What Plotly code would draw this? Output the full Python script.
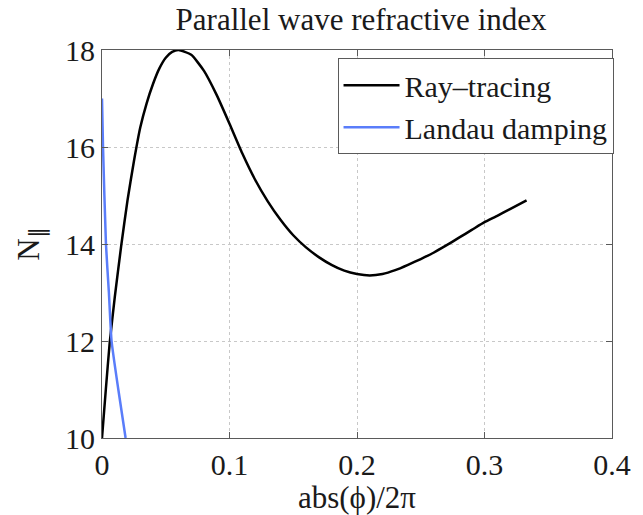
import plotly.graph_objects as go

# Ray-tracing curve
ray_x = [0.0, 0.003, 0.006, 0.010, 0.015, 0.020, 0.025, 0.030, 0.035, 0.040, 0.045, 0.050,
         0.055, 0.060, 0.070, 0.080, 0.090, 0.100, 0.110, 0.120, 0.130, 0.140, 0.150,
         0.160, 0.170, 0.180, 0.190, 0.200, 0.210, 0.220, 0.230, 0.240, 0.250, 0.260,
         0.270, 0.280, 0.290, 0.300, 0.310, 0.320, 0.333]
ray_y = [10.0, 11.0, 11.95, 12.9, 13.95, 14.9, 15.7, 16.4, 16.9, 17.3, 17.62, 17.84,
         17.96, 18.0, 17.9, 17.57, 17.07, 16.48, 15.87, 15.33, 14.88, 14.50, 14.18,
         13.93, 13.73, 13.57, 13.45, 13.38, 13.35, 13.38, 13.46, 13.57, 13.69, 13.82,
         13.97, 14.13, 14.29, 14.45, 14.58, 14.72, 14.90]

# Landau damping curve
lan_x = [0.0, 0.0008, 0.0031, 0.0054, 0.0075, 0.0128, 0.0185]
lan_y = [17.0, 16.0, 14.0, 13.0, 12.0, 11.0, 10.0]

x_ticks = [0, 0.1, 0.2, 0.3, 0.4]
x_labels = ["0", "0.1", "0.2", "0.3", "0.4"]
y_ticks = [10, 12, 14, 16, 18]

FONT = "Liberation Serif, Times New Roman, serif"
TXT = "#1a1a1a"

fig = go.Figure()
fig.add_trace(go.Scatter(x=ray_x, y=ray_y, mode="lines", name="Ray\u2013tracing",
                         line=dict(color="black", width=2.5, shape="spline", smoothing=0.5)))
fig.add_trace(go.Scatter(x=lan_x, y=lan_y, mode="lines", name="Landau damping",
                         line=dict(color="#5a7dfa", width=2.5, shape="spline", smoothing=0.5)))

axis_common = dict(showline=True, linecolor="#5a5a5a", linewidth=1, mirror="ticks",
                   ticks="inside", ticklen=6, tickcolor="#5a5a5a",
                   showgrid=True, gridcolor="#c8c8c8", griddash="dot", gridwidth=1,
                   zeroline=False, tickfont=dict(family=FONT, size=30, color=TXT))

fig.update_layout(
    width=643, height=515,
    margin=dict(l=102, r=23, t=50, b=75),
    paper_bgcolor="white", plot_bgcolor="white",
    title=dict(text="Parallel wave refractive index", x=0.5615, xanchor="center",
               y=0.962, yanchor="middle", font=dict(family=FONT, size=31, color=TXT)),
    xaxis=dict(range=[0, 0.4], tickvals=x_ticks, ticktext=x_labels,
               title=dict(text="abs(\u03d5)/2\u03c0", font=dict(family=FONT, size=31, color=TXT), standoff=0),
               **axis_common),
    yaxis=dict(range=[10, 18], tickvals=y_ticks,
               title=dict(text="N<sub>\u2225</sub>", font=dict(family=FONT, size=31, color=TXT), standoff=16),
               **axis_common),
    legend=dict(x=1.003, y=0.979, xanchor="right", yanchor="top",
                bgcolor="white", bordercolor="#5a5a5a", borderwidth=1,
                font=dict(family=FONT, size=30, color=TXT),
                tracegroupgap=0, itemwidth=56),
    showlegend=True,
)

fig.write_html("out.html")
